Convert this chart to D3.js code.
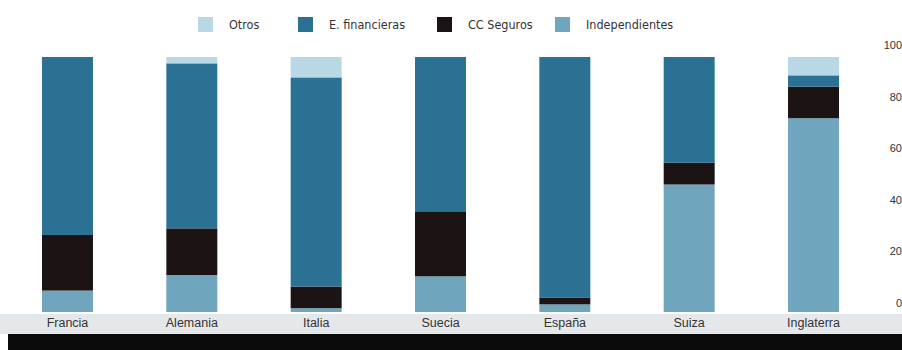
<!DOCTYPE html>
<html>
<head>
<meta charset="utf-8">
<script src="https://cdn.jsdelivr.net/npm/d3@7"></script>
<style>
  body { margin: 0; background: #fff; }
  svg { display: block; font-family: "Liberation Sans Narrow", "DejaVu Sans Condensed", "Open Sans", sans-serif; }
  .axis text { fill: #333; font-size: 11px; }
  .x.axis text { font-size: 12.5px; }
</style>
</head>
<body>
<svg id="chart"></svg>
<script>
(function() {

  const categories = ['Francia', 'Alemania', 'Italia', 'Suecia', 'España', 'Suiza', 'Inglaterra'];
  const independientes = [8.4, 14.5, 1.5, 14, 3, 50, 76];
  const ccSeguros = [21.8, 18.3, 8.5, 25.5, 2.7, 8.5, 12.4];
  const eFinancieras = [69.8, 64.7, 82, 60.5, 94.3, 41.5, 4.4];
  const otros = [0, 2.5, 8, 0, 0, 0, 7.2];
  const yTicks = [0, 20, 40, 60, 80, 100];

  const series = [
    { key: 'Independientes', values: independientes, color: '#6fa6be' },
    { key: 'CC Seguros', values: ccSeguros, color: '#1c1414' },
    { key: 'E. financieras', values: eFinancieras, color: '#2a7193' },
    { key: 'Otros', values: otros, color: '#b8d8e6' }
  ];
  const legendOrder = ['Otros', 'E. financieras', 'CC Seguros', 'Independientes'];

  const width = 902;
  const height = 350;

  const svg = d3.select('#chart')
    .attr('width', width)
    .attr('height', height);

  // table for d3.stack
  const table = categories.map(function(c, i) {
    const row = { cat: c };
    series.forEach(function(s) { row[s.key] = s.values[i]; });
    return row;
  });
  const stacked = d3.stack().keys(series.map(function(s) { return s.key; }))(table);

  const x = d3.scaleBand()
    .domain(categories)
    .range([42, 839])
    .paddingInner(0.59)
    .paddingOuter(0);

  const y = d3.scaleLinear().domain([0, 100]).range([312, 57]);
  // tick labels sit a little above the bar scale in the original
  const yLabels = y.copy().range([303, 45]);

  // bottom bands
  svg.append('rect')
    .attr('x', 0).attr('y', 314)
    .attr('width', width).attr('height', 20)
    .attr('fill', '#e5e8eb');
  svg.append('rect')
    .attr('x', 8).attr('y', 334)
    .attr('width', width - 8).attr('height', 16)
    .attr('fill', '#0b0b0b');

  const colorOf = {};
  series.forEach(function(s) { colorOf[s.key] = s.color; });

  svg.append('g').attr('class', 'bars')
    .selectAll('g')
    .data(stacked)
    .enter()
    .append('g')
    .attr('fill', function(d) { return colorOf[d.key]; })
    .selectAll('rect')
    .data(function(d) { return d; })
    .enter()
    .append('rect')
    .attr('x', function(d) { return x(d.data.cat); })
    .attr('y', function(d) { return y(d[1]); })
    .attr('width', x.bandwidth())
    .attr('height', function(d) { return y(d[0]) - y(d[1]); });

  // category labels
  svg.append('g')
    .attr('class', 'x axis')
    .attr('transform', 'translate(0,315)')
    .call(d3.axisBottom(x).tickSize(0).tickPadding(3));

  // value labels on the right
  svg.append('g')
    .attr('class', 'y axis')
    .attr('transform', 'translate(905,0)')
    .call(d3.axisLeft(yLabels).tickValues(yTicks).tickSize(0).tickPadding(3));

  svg.selectAll('.domain').remove();

  // legend
  const legendX = [198, 298, 437, 555];
  const legend = svg.append('g').attr('class', 'legend')
    .selectAll('g')
    .data(legendOrder)
    .enter()
    .append('g')
    .attr('transform', function(d, i) { return 'translate(' + legendX[i] + ',17)'; });

  legend.append('rect')
    .attr('width', 15)
    .attr('height', 15)
    .attr('fill', function(d) { return colorOf[d]; });

  legend.append('text')
    .attr('x', 31)
    .attr('y', 8)
    .attr('dy', '0.35em')
    .style('font-size', '12.5px')
    .style('fill', '#333')
    .text(function(d) { return d; });

})();
</script>
</body>
</html>
